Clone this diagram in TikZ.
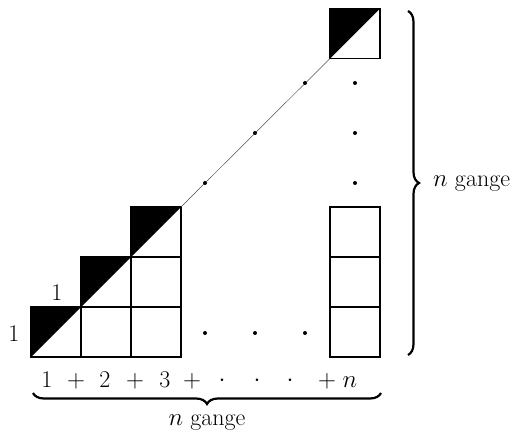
\documentclass[tikz,border=0pt]{standalone}
\usetikzlibrary{decorations.pathreplacing}
\begin{document}
\begin{tikzpicture}[x=1pt,y=-1pt,
  cell/.style={draw,line width=1.3pt,minimum size=50pt,inner sep=0pt,outer sep=0pt},
  dotn/.style={circle,fill=black,inner sep=0pt,minimum size=4pt},
  lbl/.style={font=\fontsize{24}{28}\selectfont,inner sep=0pt},
  bracestyle/.style={decorate,decoration={brace,amplitude=11pt},line width=2.2pt}]
\useasboundingbox (0,0) rectangle (519,435);
% staircase
\node[cell] (c11) at (56,332) {};
\node[cell] (c12) at (106,332) {};
\node[cell] (c13) at (156,332) {};
\node[cell] (c22) at (106,282) {};
\node[cell] (c23) at (156,282) {};
\node[cell] (c33) at (156,232) {};
% right column
\node[cell] (r1) at (355,332) {};
\node[cell] (r2) at (355,282) {};
\node[cell] (r3) at (355,232) {};
\node[cell] (top) at (355,33.5) {};
% black halves
\foreach \c in {c11,c22,c33,top}
  \fill (\c.south west) -- (\c.north west) -- (\c.north east) -- cycle;
% diagonal
\draw[black!70,line width=0.5pt] (c33.north east) -- (top.south west);
% dots
\node[dotn] (d1) at (205,183) {};
\node[dotn] (d2) at (255,133) {};
\node[dotn] (d3) at (305,83) {};
\node[dotn] (v1) at (355,83) {};
\node[dotn] (v2) at (355,133) {};
\node[dotn] (v3) at (355,183) {};
\node[dotn] (h1) at (205,333) {};
\node[dotn] (h2) at (255,333) {};
\node[dotn] (h3) at (305,333) {};
% side labels
\node[lbl] (l1) at (14,334) {1};
\node[lbl] (l2) at (57,293) {1};
% sum
\node[lbl] (s1) at (47,380) {1};
\node[lbl] (p1) at (76,381) {$+$};
\node[lbl] (s2) at (105,380) {2};
\node[lbl] (p2) at (135,381) {$+$};
\node[lbl] (s3) at (165,380) {3};
\node[lbl] (p3) at (192,381) {$+$};
\node[lbl] (e1) at (222,381) {$\cdot$};
\node[lbl] (e2) at (257,381) {$\cdot$};
\node[lbl] (e3) at (290,381) {$\cdot$};
\node[lbl] (p4) at (327,381) {$+$};
\node[lbl] (sn) at (350,382) {$n$};
% braces
\coordinate (bt) at (408,11);
\coordinate (bb) at (408,355);
\draw[bracestyle] (bt) -- (bb);
\node[lbl,anchor=west] (rg) at (433,184) {$n$ gange};
\coordinate (hl) at (33,393);
\coordinate (hr) at (381,393);
\draw[bracestyle] (hr) -- (hl);
\node[lbl] (bg) at (207,423) {$n$ gange};
\end{tikzpicture}
\end{document}
